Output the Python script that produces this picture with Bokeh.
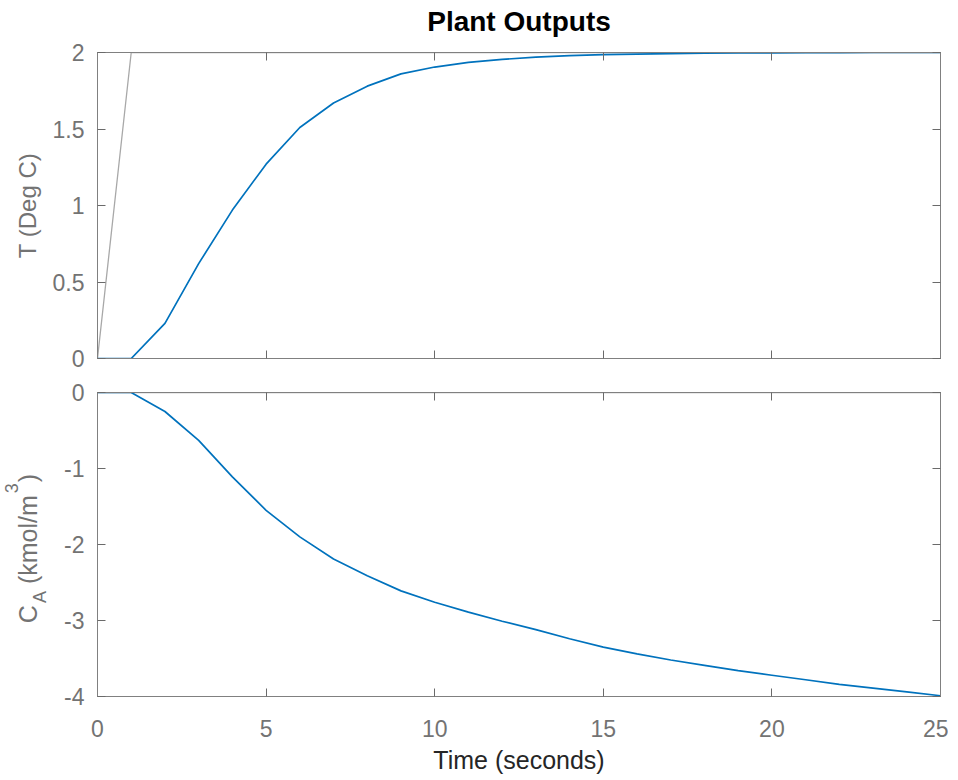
from math import pi

from bokeh.core.properties import value
from bokeh.embed import file_html
from bokeh.layouts import column, row
from bokeh.models import (CustomJSTickFormatter, FixedTicker,
                          LinearAxis, Range1d)
from bokeh.plotting import figure
from bokeh.resources import INLINE

# ---------------- data ----------------
time_s = [0, 1, 2, 3, 4, 5, 6, 7, 8, 9, 10, 11, 12, 13, 14, 15, 16, 17, 18, 19,
          20, 21, 22, 23, 24, 25]
temp_out = [0, 0, 0.23, 0.62, 0.97, 1.27, 1.51, 1.67, 1.78, 1.86, 1.905, 1.935,
            1.955, 1.97, 1.98, 1.986, 1.99, 1.993, 1.995, 1.997, 1.998, 1.999,
            1.999, 2.0, 2.0, 2.0]
temp_ref = [0, 2, 2, 2, 2, 2, 2, 2, 2, 2, 2, 2, 2, 2, 2, 2, 2, 2, 2, 2,
            2, 2, 2, 2, 2, 2]
conc_out = [0, 0, -0.25, -0.63, -1.11, -1.55, -1.90, -2.19, -2.41, -2.61, -2.76,
            -2.89, -3.01, -3.12, -3.24, -3.35, -3.44, -3.52, -3.59, -3.66, -3.72,
            -3.78, -3.84, -3.89, -3.94, -3.99]
conc_ref = [0, 0, 0, 0, 0, 0, 0, 0, 0, 0, 0, 0, 0, 0, 0, 0, 0, 0, 0, 0,
            0, 0, 0, 0, 0, 0]

x_ticks = [0, 5, 10, 15, 20, 25]
temp_ticks = [0, 0.5, 1, 1.5, 2]
conc_ticks = [-4, -3, -2, -1, 0]

title_text = "Plant Outputs"
temp_label = "T (Deg C)"
x_label = "Time (seconds)"
conc_label_parts = ["C", "A", "(kmol/m", "3", ")"]

# ---------------- style ----------------
FONT = "Liberation Sans"
FRAME = "#808080"
TICKC = "#6a6a6a"
LABC = "#737373"
BLUE = "#0072BD"
REFC = "#a8a8a8"

LEFT = 97          # frame left edge (px)
FRAME_W = 843
TITLE_H = 40       # height of the title strip
TOP1 = 52          # top frame top edge (page)
H1 = 306
GAP_A = 17
GAP_B = 17
H2 = 304
BOT2 = 82
HELPER_W = 60

num_fmt = CustomJSTickFormatter(code="return tick.toString()")


def make_axis(ticks, show_labels):
    ax = LinearAxis(ticker=FixedTicker(ticks=ticks))
    ax.axis_line_color = FRAME
    ax.major_tick_line_color = TICKC
    ax.major_tick_in = 8
    ax.major_tick_out = 0
    ax.minor_tick_line_color = None
    if show_labels:
        ax.formatter = num_fmt
        ax.major_label_text_font = FONT
        ax.major_label_text_font_size = "23px"
        ax.major_label_text_color = LABC
    else:
        ax.formatter = CustomJSTickFormatter(code="return ''")
        ax.major_label_text_font_size = "0px"
        ax.major_label_standoff = 0
    return ax


def blank_fig(fw, fh, xr, yr, left=0, right=0, top=0, bottom=0):
    p = figure(frame_width=fw, frame_height=fh, x_range=xr, y_range=yr,
               x_axis_type=None, y_axis_type=None,
               toolbar_location=None, output_backend="svg",
               min_border_left=left, min_border_right=right,
               min_border_top=top, min_border_bottom=bottom)
    p.xgrid.visible = False
    p.ygrid.visible = False
    p.outline_line_color = None
    p.background_fill_color = "white"
    p.border_fill_color = "white"
    return p


def base_fig(y0, y1, frame_h, left, top, bottom):
    p = blank_fig(FRAME_W, frame_h, Range1d(0, 25), Range1d(y0, y1),
                  left=left, right=8, top=top, bottom=bottom)
    p.outline_line_color = FRAME
    p.outline_line_width = 1
    return p


# ---------------- title strip ----------------
tfig = blank_fig(FRAME_W, TITLE_H, Range1d(0, 1), Range1d(0, TITLE_H),
                 left=LEFT, right=8)
tfig.text(x=[0.5], y=[TITLE_H - 21], text=[title_text],
          text_align="center", text_baseline="middle",
          text_font=value(FONT), text_font_size=value("28px"),
          text_font_style="bold", text_color="#000000")

# ---------------- top: temperature ----------------
p1 = base_fig(0, 2, H1, LEFT, TOP1 - TITLE_H, GAP_A)

left1 = make_axis(temp_ticks, True)
left1.major_label_standoff = 13
left1.axis_label = temp_label
left1.axis_label_text_font = FONT
left1.axis_label_text_font_size = "24px"
left1.axis_label_text_font_style = "normal"
left1.axis_label_text_color = LABC
left1.axis_label_standoff = 9
p1.add_layout(left1, "left")
p1.add_layout(make_axis(temp_ticks, False), "right")
p1.add_layout(make_axis(x_ticks, False), "below")
p1.add_layout(make_axis(x_ticks, False), "above")

p1.line(time_s, temp_ref, line_color=REFC, line_width=1.3)
p1.line(time_s, temp_out, line_color=BLUE, line_width=1.7)

# ---------------- bottom: concentration ----------------
p2 = base_fig(-4, 0, H2, LEFT - HELPER_W, GAP_B, BOT2)

left2 = make_axis(conc_ticks, True)
left2.major_label_standoff = 13
p2.add_layout(left2, "left")
p2.add_layout(make_axis(conc_ticks, False), "right")
p2.add_layout(make_axis(x_ticks, False), "above")

bottom2 = make_axis(x_ticks, True)
bottom2.major_label_standoff = 23
bottom2.axis_label = x_label
bottom2.axis_label_text_font = FONT
bottom2.axis_label_text_font_size = "25px"
bottom2.axis_label_text_font_style = "normal"
bottom2.axis_label_text_color = "#262626"
bottom2.axis_label_standoff = 6
p2.add_layout(bottom2, "below")

p2.line(time_s, conc_ref, line_color=REFC, line_width=1.3)
p2.line(time_s, conc_out, line_color=BLUE, line_width=1.7)

# ---------------- helper panel holding the C_A (kmol/m^3) label ----------------
# same vertical borders as p2 so its frame lines up with p2's frame;
# local y = 0 is the vertical centre of that frame
lab = blank_fig(HELPER_W, H2, Range1d(0, HELPER_W), Range1d(-H2 / 2.0, H2 / 2.0),
                top=GAP_B, bottom=BOT2)

# (text, font px, baseline x, advance px, gap after)
pieces = [
    (conc_label_parts[0], 25, 27, 18.1, 2.0),
    (conc_label_parts[1], 18, 39, 12.0, 7.0),
    (conc_label_parts[2], 25, 27, 88.9, 2.0),
    (conc_label_parts[3], 18, 11, 10.0, 1.0),
    (conc_label_parts[4], 25, 27, 8.3, 0.0),
]
total = sum(a + g for _, _, _, a, g in pieces)
pos = -total / 2.0 - 4.0
for txt, fs, bx, adv, gap in pieces:
    lab.text(x=[bx], y=[pos], text=[txt], angle=pi / 2,
             text_align="left", text_baseline="alphabetic",
             text_font=value(FONT), text_font_size=value(f"{fs}px"),
             text_color=LABC)
    pos += adv + gap

layout = column(tfig, p1, row(lab, p2, spacing=0), spacing=0)
open("out.html", "w").write(file_html(layout, INLINE, "Plant Outputs"))
